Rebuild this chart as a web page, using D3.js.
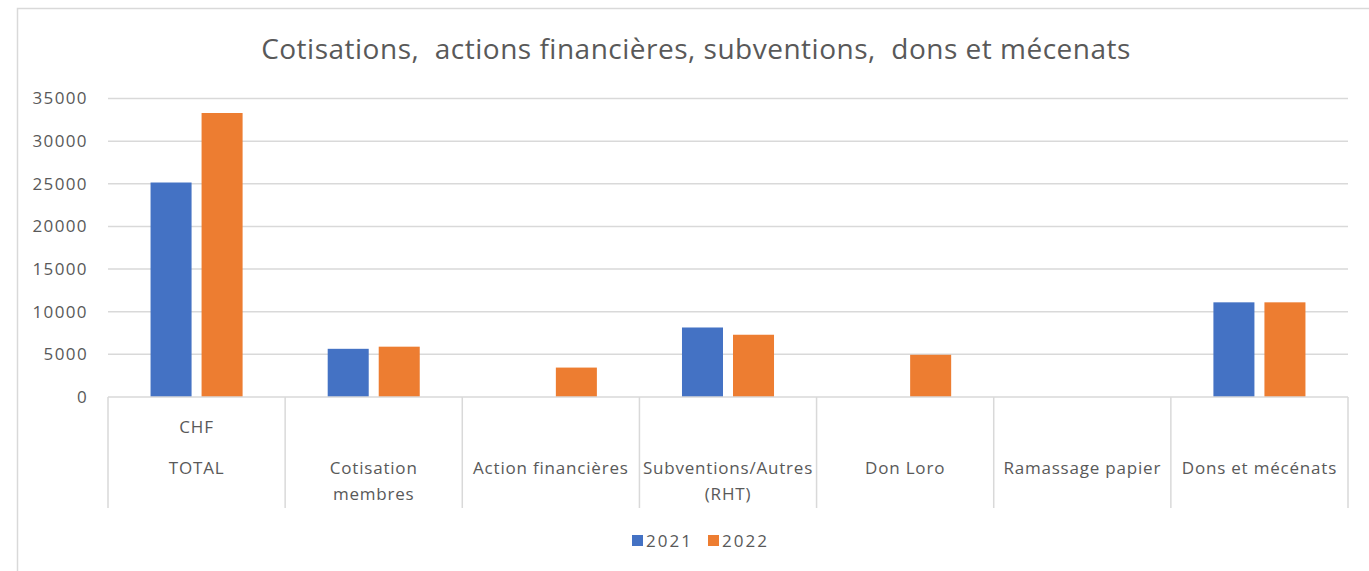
<!DOCTYPE html>
<html>
<head>
<meta charset="utf-8">
<script src="https://cdn.jsdelivr.net/npm/d3@7"></script>
<style>
  body { margin: 0; background: #fff; }
  svg text { font-family: "Open Sans", "Noto Sans", sans-serif; fill: #595959; }
</style>
</head>
<body>
<svg id="chart"></svg>
<script>
//data
const categories = ["TOTAL", "Cotisation membres", "Action financières", "Subventions/Autres (RHT)", "Don Loro", "Ramassage papier", "Dons et mécénats"];
const categoryLines = [["TOTAL"], ["Cotisation", "membres"], ["Action financières"], ["Subventions/Autres", "(RHT)"], ["Don Loro"], ["Ramassage papier"], ["Dons et mécénats"]];
const series = ["2021", "2022"];
const values2021 = [25150, 5650, 0, 8150, 0, 0, 11100];
const values2022 = [33300, 5900, 3450, 7300, 4950, 0, 11100];
const yTicks = [0, 5000, 10000, 15000, 20000, 25000, 30000, 35000];
const title = "Cotisations,  actions financières, subventions,  dons et mécenats";
const unitLabel = "CHF";

const colors = { "2021": "#4472C4", "2022": "#ED7D31" };
const width = 1369, height = 571;

const svg = d3.select("#chart")
    .attr("width", width)
    .attr("height", height);

//chart border (runs off the right and bottom)
svg.append("rect")
    .attr("x", 17.5).attr("y", 8.5)
    .attr("width", 1400).attr("height", 600)
    .attr("fill", "#fff")
    .attr("stroke", "#d9d9d9")
    .attr("stroke-width", 1.5);

//title
svg.append("text")
    .attr("x", 696).attr("y", 59)
    .attr("text-anchor", "middle")
    .style("font-size", "28px")
    .style("letter-spacing", "0.5px")
    .style("white-space", "pre")
    .text(title);

//scales
const x0 = d3.scaleBand()
    .domain(categories)
    .range([108, 1348]);

const x1 = d3.scaleBand()
    .domain(series)
    .range([0, x0.bandwidth()])
    .paddingInner(0.196)
    .paddingOuter(0.834);

const y = d3.scaleLinear()
    .domain([0, 35000])
    .range([397, 98.5]);

//gridlines
svg.append("g")
    .selectAll("line")
    .data(yTicks.slice(1))
    .join("line")
    .attr("x1", 108).attr("x2", 1348)
    .attr("y1", d => y(d)).attr("y2", d => y(d))
    .attr("stroke", "#d9d9d9")
    .attr("stroke-width", 1.5);

//y axis labels
const yAxis = svg.append("g")
    .attr("transform", "translate(98,0)")
    .call(d3.axisLeft(y).tickValues(yTicks).tickSize(0).tickPadding(10).tickFormat(d3.format("d")));
yAxis.select(".domain").remove();
yAxis.selectAll("text")
    .style("font-size", "17px")
    .style("letter-spacing", "1.4px")
    .style("font-family", "\"Open Sans\", sans-serif")
    .attr("fill", "#595959");

//bars
const rows = categories.map((c, i) => ({ cat: c, vals: [values2021[i], values2022[i]] }));

svg.append("g")
    .selectAll("g")
    .data(rows)
    .join("g")
    .attr("transform", d => `translate(${x0(d.cat)},0)`)
    .selectAll("rect")
    .data(d => series.map((s, j) => ({ s, v: d.vals[j] })).filter(e => e.v > 0))
    .join("rect")
    .attr("x", d => x1(d.s))
    .attr("width", x1.bandwidth())
    .attr("y", d => y(d.v))
    .attr("height", d => y(0) - y(d.v))
    .attr("fill", d => colors[d.s]);

//category axis: baseline + separators
svg.append("line")
    .attr("x1", 108).attr("x2", 1348)
    .attr("y1", y(0)).attr("y2", y(0))
    .attr("stroke", "#d9d9d9").attr("stroke-width", 1.5);

const bounds = categories.map(c => x0(c)).concat([x0.range()[1]]);
svg.append("g")
    .selectAll("line")
    .data(bounds)
    .join("line")
    .attr("x1", d => d).attr("x2", d => d)
    .attr("y1", y(0)).attr("y2", 508)
    .attr("stroke", "#d9d9d9").attr("stroke-width", 1.5);

//inner level label (CHF under TOTAL)
svg.append("text")
    .attr("x", x0(categories[0]) + x0.bandwidth() / 2)
    .attr("y", 433)
    .attr("text-anchor", "middle")
    .style("font-size", "17px")
    .style("letter-spacing", "0.8px")
    .text(unitLabel);

//category labels
svg.append("g")
    .selectAll("text")
    .data(categories)
    .join("text")
    .attr("x", d => x0(d) + x0.bandwidth() / 2)
    .attr("y", 474)
    .attr("text-anchor", "middle")
    .style("font-size", "17px")
    .style("letter-spacing", "0.8px")
    .selectAll("tspan")
    .data((d, i) => categoryLines[i])
    .join("tspan")
    .attr("x", function () { return this.parentNode.getAttribute("x"); })
    .attr("dy", (d, i) => i === 0 ? 0 : 26)
    .text(d => d);

//legend
const legend = svg.append("g")
    .selectAll("g")
    .data(series)
    .join("g")
    .attr("transform", (d, i) => `translate(${632 + i * 76},535)`);

legend.append("rect")
    .attr("width", 11).attr("height", 11)
    .attr("fill", d => colors[d]);

legend.append("text")
    .attr("x", 14).attr("y", 12)
    .style("font-size", "17px")
    .style("letter-spacing", "2px")
    .text(d => d);
</script>
</body>
</html>
